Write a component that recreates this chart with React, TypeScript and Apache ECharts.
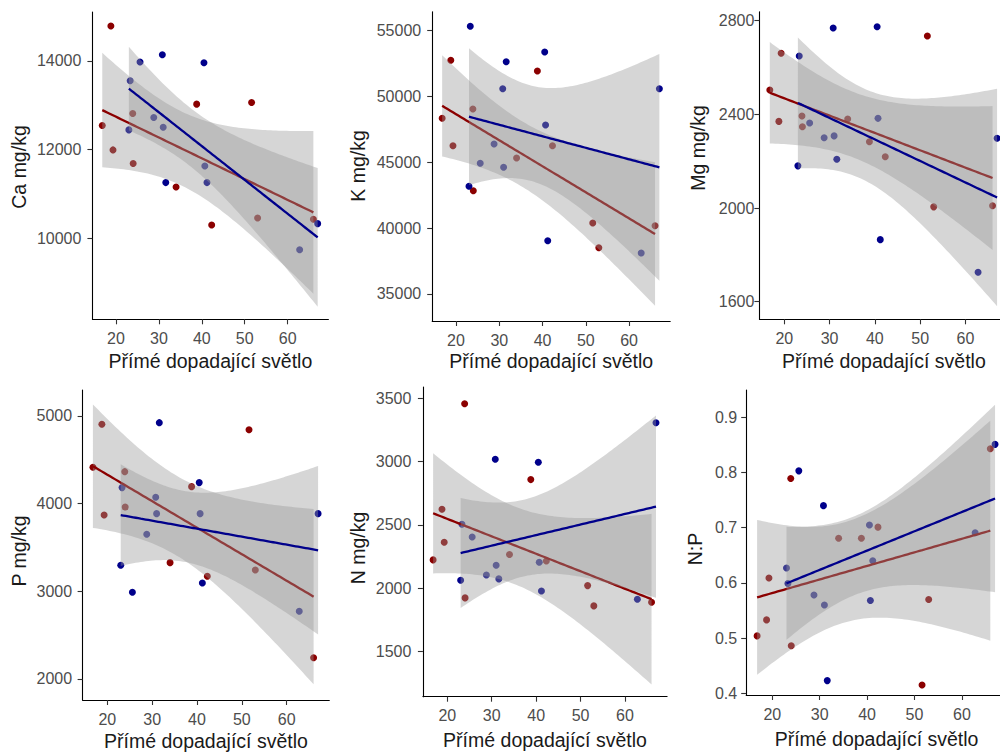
import React, { useEffect, useRef } from "react";
import * as echarts from "echarts";

// ---- data ----
const xRed = [16.8, 18.8, 19.3, 23.9, 24.0, 34.0, 38.8, 42.3, 51.6, 53.0, 66.0];
const xBlue = [23.0, 23.3, 25.6, 28.8, 30.8, 31.0, 31.6, 40.5, 40.7, 41.2, 62.8, 67.0];

const caRed = [12545, 14781, 11996, 12815, 11689, 11162, 13025, 10306, 13063, 10464, 10435];
const caBlue = [12446, 13550, 13971, 12725, 14135, 12507, 11261, 13955, 11635, 11261, 9752, 10338];

const kRed = [48347, 52752, 46266, 49053, 42848, 45332, 51939, 46266, 40395, 38519, 40190];
const kBlue = [43183, 55334, 44930, 46395, 50595, 44625, 52646, 53382, 47838, 39051, 38117, 50595];

const mgRed = [2504, 2370, 2661, 2393, 2347, 2380, 2283, 2219, 2735, 2005, 2010];
const mgBlue = [2180, 2649, 2363, 2300, 2769, 2308, 2208, 2774, 2383, 1865, 1726, 2298];

const pRed = [4415, 4905, 3871, 4365, 3962, 3327, 4194, 3172, 4844, 3243, 2243];
const pBlue = [3297, 4183, 2989, 3651, 4073, 3886, 4924, 4240, 3886, 3095, 2772, 3886];

const nRed = [2224, 2624, 2363, 3457, 1924, 2266, 2858, 2216, 2021, 1861, 1890];
const nBlue = [2064, 2506, 2405, 2105, 3019, 2182, 2074, 2995, 2206, 1979, 1914, 3307];

const npRed = [0.504, 0.533, 0.609, 0.789, 0.486, 0.681, 0.681, 0.701, 0.415, 0.57, 0.843];
const npBlue = [0.627, 0.599, 0.803, 0.578, 0.74, 0.56, 0.423, 0.705, 0.568, 0.64, 0.691, 0.851];

const xTicks = [20, 30, 40, 50, 60];
const caTicks = [10000, 12000, 14000];
const kTicks = [35000, 40000, 45000, 50000, 55000];
const mgTicks = [1600, 2000, 2400, 2800];
const pTicks = [2000, 3000, 4000, 5000];
const nTicks = [1500, 2000, 2500, 3000, 3500];
const npTicks = [0.4, 0.5, 0.6, 0.7, 0.8, 0.9];

const yTitles = ["Ca mg/kg", "K mg/kg", "Mg mg/kg", "P mg/kg", "N mg/kg", "N:P"];
const xTitle = "Přímé dopadající světlo";

// ---- layout / style ----
const FONT = '"Liberation Sans", Arial, Helvetica, sans-serif';
const RED = "#8B0000";
const BLUE = "#00008B";
const BAND = "rgba(153,153,153,0.4)";
const X_MIN = 14.5;
const X_MAX = 69.5;

const PANELS = [
  { yRed: caRed, yBlue: caBlue, ticks: caTicks, left: 92.4, top: 12, width: 236, height: 307.3, yMin: 8187, yMax: 15097, tx: 19, ty: 167, lm: 11, xty: 360.5 },
  { yRed: kRed, yBlue: kBlue, ticks: kTicks, left: 432.2, top: 11.7, width: 238, height: 309.3, yMin: 32949, yMax: 56443, tx: 358, ty: 166, lm: 11, xty: 360.5 },
  { yRed: mgRed, yBlue: mgBlue, ticks: mgTicks, left: 759.4, top: 11.7, width: 249, height: 307.6, yMin: 1524.8, yMax: 2838.4, tx: 698, ty: 148, lm: 5, xty: 360.5 },
  { yRed: pRed, yBlue: pBlue, ticks: pTicks, left: 82.6, top: 390, width: 246.7, height: 310, yMin: 1760, yMax: 5296.6, tx: 19, ty: 551, lm: 10.5, xty: 740.5 },
  { yRed: nRed, yBlue: nBlue, ticks: nTicks, left: 422.9, top: 387, width: 244.2, height: 309.7, yMin: 1144, yMax: 3589, tx: 358, ty: 548, lm: 11.5, xty: 740 },
  { yRed: npRed, yBlue: npBlue, ticks: npTicks, left: 746.2, top: 390, width: 260.7, height: 305, yMin: 0.3969, yMax: 0.9495, tx: 695, ty: 549, lm: 9, xty: 739 },
];

const T975: Record<number, number> = { 8: 2.306, 9: 2.262, 10: 2.228, 11: 2.201 };

// linear model fit with 95% confidence band (as geom_smooth(method = "lm"))
function lmBand(xs: number[], ys: number[], nPts = 80) {
  const n = xs.length;
  const mx = xs.reduce((a, b) => a + b, 0) / n;
  const my = ys.reduce((a, b) => a + b, 0) / n;
  let sxx = 0;
  let sxy = 0;
  for (let i = 0; i < n; i++) {
    sxx += (xs[i] - mx) * (xs[i] - mx);
    sxy += (xs[i] - mx) * (ys[i] - my);
  }
  const b = sxy / sxx;
  const a = my - b * mx;
  let sse = 0;
  for (let i = 0; i < n; i++) {
    const r = ys[i] - (a + b * xs[i]);
    sse += r * r;
  }
  const s = Math.sqrt(sse / (n - 2));
  const t = T975[n - 2] ?? 2.0;
  const x0 = Math.min(...xs);
  const x1 = Math.max(...xs);
  const fit: number[][] = [];
  const lo: number[][] = [];
  const hi: number[][] = [];
  for (let k = 0; k < nPts; k++) {
    const x = x0 + ((x1 - x0) * k) / (nPts - 1);
    const yh = a + b * x;
    const se = s * Math.sqrt(1 / n + ((x - mx) * (x - mx)) / sxx);
    fit.push([x, yh]);
    lo.push([x, yh - t * se]);
    hi.push([x, yh + t * se]);
  }
  return { fit, lo, hi };
}

function bandSeries(idx: number, band: { lo: number[][]; hi: number[][] }, z: number) {
  return {
    type: "custom",
    xAxisIndex: idx,
    yAxisIndex: idx,
    z,
    silent: true,
    clip: true,
    data: [[band.lo[0][0], band.lo[0][1]]],
    renderItem: (_params: any, api: any) => {
      const pts = band.hi
        .map((p) => api.coord(p))
        .concat(band.lo.slice().reverse().map((p) => api.coord(p)));
      return { type: "polygon", shape: { points: pts }, style: { fill: BAND, stroke: null } };
    },
  };
}

function lineSeries(idx: number, fit: number[][], color: string, z: number) {
  return {
    type: "line",
    xAxisIndex: idx,
    yAxisIndex: idx,
    z,
    data: fit,
    showSymbol: false,
    symbol: "none",
    silent: true,
    lineStyle: { color, width: 2.3 },
  };
}

const plain = (v: number) => String(v);

function buildOption() {
  const grid: any[] = [];
  const xAxis: any[] = [];
  const yAxis: any[] = [];
  const series: any[] = [];
  const graphic: any[] = [];

  PANELS.forEach((p, i) => {
    grid.push({ left: p.left, top: p.top, width: p.width, height: p.height, containLabel: false, outerBoundsMode: "none" });
    xAxis.push({
      type: "value",
      gridIndex: i,
      min: X_MIN,
      max: X_MAX,
      axisLine: { show: true, onZero: false, lineStyle: { color: "#000", width: 1.1 } },
      axisTick: { show: true, customValues: xTicks, length: 5, lineStyle: { color: "#333", width: 1.1 } },
      axisLabel: { customValues: xTicks, formatter: plain, color: "#4D4D4D", fontSize: 16, fontFamily: FONT, margin: 11 },
      splitLine: { show: false },
    });
    yAxis.push({
      type: "value",
      gridIndex: i,
      min: p.yMin,
      max: p.yMax,
      axisLine: { show: true, onZero: false, lineStyle: { color: "#000", width: 1.1 } },
      axisTick: { show: true, customValues: p.ticks, length: 5, lineStyle: { color: "#333", width: 1.1 } },
      axisLabel: { customValues: p.ticks, formatter: plain, color: "#4D4D4D", fontSize: 16, fontFamily: FONT, margin: p.lm },
      splitLine: { show: false },
    });

    const redPts = xRed.map((x, k) => [x, p.yRed[k]]);
    const bluePts = xBlue.map((x, k) => [x, p.yBlue[k]]);
    series.push({ type: "scatter", xAxisIndex: i, yAxisIndex: i, z: 1, symbolSize: 7, data: redPts, itemStyle: { color: RED, opacity: 1 }, silent: true });
    series.push({ type: "scatter", xAxisIndex: i, yAxisIndex: i, z: 1, symbolSize: 7, data: bluePts, itemStyle: { color: BLUE, opacity: 1 }, silent: true });

    const rb = lmBand(xRed, p.yRed);
    const bb = lmBand(xBlue, p.yBlue);
    series.push(bandSeries(i, rb, 2));
    series.push(lineSeries(i, rb.fit, RED, 3));
    series.push(bandSeries(i, bb, 4));
    series.push(lineSeries(i, bb.fit, BLUE, 5));

    graphic.push({
      type: "text",
      x: p.left + p.width / 2,
      y: p.xty,
      silent: true,
      style: { text: xTitle, fontSize: 19.5, fontFamily: FONT, fill: "#1A1A1A", align: "center", verticalAlign: "middle", textAlign: "center", textVerticalAlign: "middle" },
    });
    graphic.push({
      type: "text",
      x: p.tx,
      y: p.ty,
      rotation: Math.PI / 2,
      silent: true,
      style: { text: yTitles[i], fontSize: 19.5, fontFamily: FONT, fill: "#1A1A1A", align: "center", verticalAlign: "middle", textAlign: "center", textVerticalAlign: "middle" },
    });
  });

  return {
    animation: false,
    backgroundColor: "#FFFFFF",
    grid,
    xAxis,
    yAxis,
    series,
    graphic,
  };
}

export default function App() {
  const ref = useRef<HTMLDivElement>(null);
  useEffect(() => {
    if (!ref.current) return;
    const chart = echarts.init(ref.current, undefined, { renderer: "svg" });
    chart.setOption(buildOption() as any);
    return () => chart.dispose();
  }, []);
  return (
    <div
      ref={ref}
      style={{ position: "absolute", left: 0, top: 0, width: 1000, height: 754, background: "#fff" }}
    />
  );
}
